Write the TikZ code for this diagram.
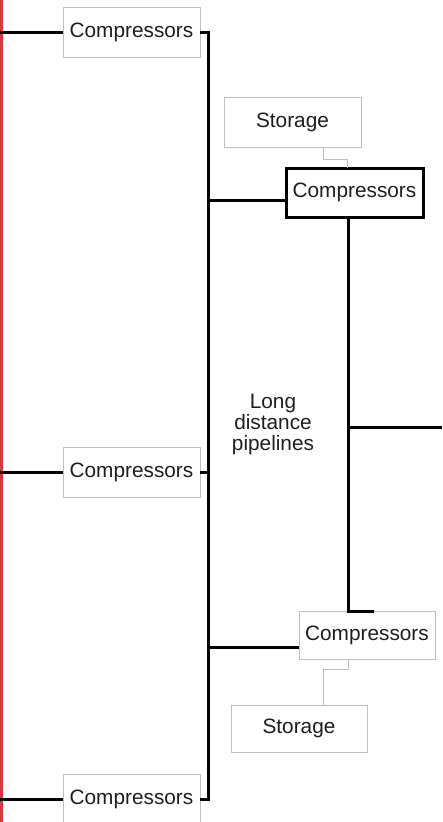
\documentclass[tikz,border=0pt]{standalone}
\usepackage{fontspec}
\setmainfont{Liberation Sans}
\usetikzlibrary{positioning}
\definecolor{edgeRed}{RGB}{226,52,62}
\definecolor{boxGray}{RGB}{190,190,190}
\definecolor{inkGray}{RGB}{30,30,30}
\tikzset{
    stationBox/.style={
        draw=boxGray,
        line width=0.9pt,
        align=center,
        inner sep=0pt,
        text=inkGray,
        minimum width=137pt,
        minimum height=50pt,
        font=\fontsize{20.8}{21}\selectfont
    },
    stationMain/.style={
        stationBox,
        draw=black,
        line width=3pt,
        minimum height=49pt
    },
    pipeLine/.style={
        line width=3pt,
        line join=miter
    },
    storeLine/.style={
        draw=boxGray,
        line width=0.9pt
    }
}
\begin{document}
\begin{tikzpicture}[x=1pt,y=-1pt]
        \useasboundingbox (0,0) rectangle (442,822);
        \draw[edgeRed,line width=3pt] (1.5,0) -- (1.5,822);

        \node[stationBox] (compTop) at (131.5,32.5) {Compressors};
        \node[stationBox] (compMid) at (131.5,472) {Compressors};
        \node[stationBox] (compLow) at (131.5,799.5) {Compressors};
        \node[stationBox] (storeTop) at (292.5,122) {Storage};
        \node[stationMain] (compHub) at (354.5,192.5) {Compressors};
        \node[stationBox,minimum width=136pt,minimum height=48pt] (compSouth) at (367,635) {Compressors};
        \node[stationBox,minimum width=136pt,minimum height=47pt] (storeLow) at (299,728.5) {Storage};
        \node[font=\fontsize{20.8}{21}\selectfont,text=inkGray,align=center] (label) at (273,424) {Long\\distance\\pipelines};

        \coordinate (west1) at (0,32.5);
        \coordinate (west2) at (0,472);
        \coordinate (west3) at (0,799.5);
        \coordinate (trunkTop) at (208,32.5);
        \coordinate (trunkLow) at (208,799.5);
        \coordinate (joinHub) at (208,200);
        \coordinate (joinSouth) at (208,647);
        \coordinate (bendHub) at (348,611);
        \coordinate (stubEnd) at (374,611);
        \coordinate (branch) at (348,427);
        \coordinate (eastEnd) at (442,427);

        % main trunk and feeders
        \draw[pipeLine] (west1) -- (compTop.west);
        \draw[pipeLine] (compTop.east) -- (trunkTop) -- (trunkLow) -- (compLow.east);
        \draw[pipeLine] (compLow.west) -- (west3);
        \draw[pipeLine] (west2) -- (compMid.west);
        \draw[pipeLine] (compMid.east) -- (compMid.east -| trunkTop);
        \draw[pipeLine] (joinHub) -- (joinHub -| compHub.west);
        \draw[pipeLine] (joinSouth) -- (joinSouth -| compSouth.west);

        % hub line
        \draw[pipeLine] (bendHub |- compHub.south) -- (bendHub) -- (stubEnd);
        \draw[pipeLine] (branch) -- (eastEnd);

        % storage links
        \draw[storeLine] (storeTop.south -| 323,0) -- (323,159) -- (347,159) -- (347,168);
        \draw[storeLine] (348,659) -- (348,669) -- (323,669) -- (storeLow.north -| 323,0);
    \end{tikzpicture}
\end{document}
